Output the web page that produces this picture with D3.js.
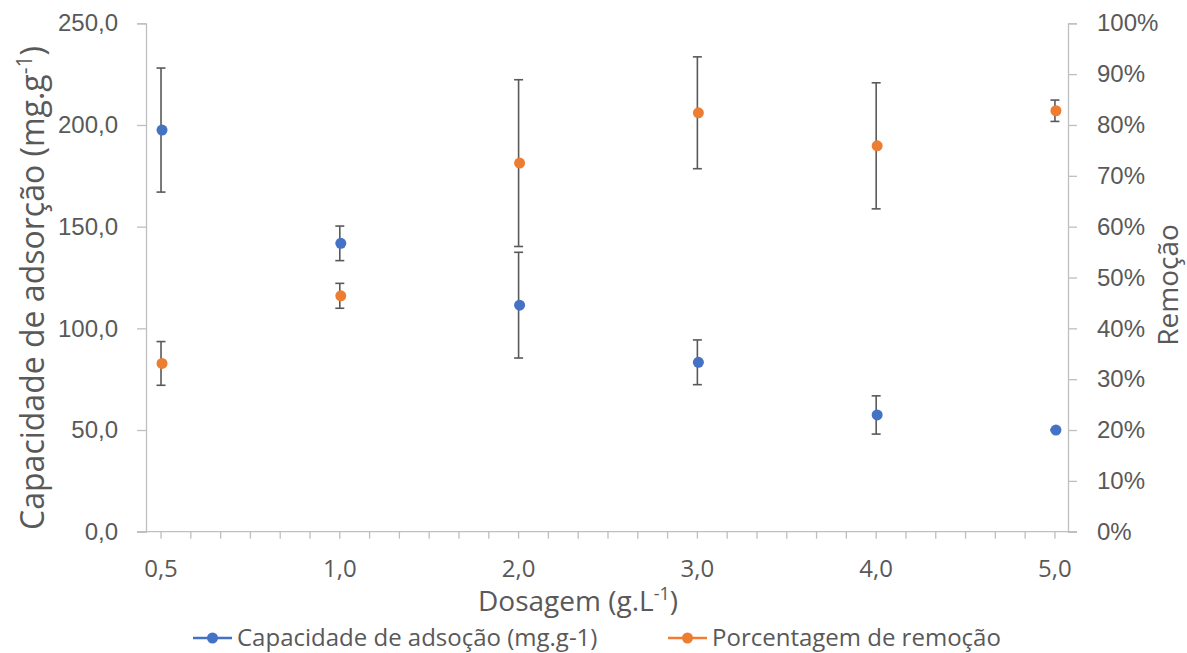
<!DOCTYPE html>
<html>
<head>
<meta charset="utf-8">
<script src="https://cdn.jsdelivr.net/npm/d3@7"></script>
<style>
  body { margin: 0; background: #fff; }
  svg { font-family: "Open Sans", "Noto Sans", sans-serif; }
  text { fill: #595959; }
</style>
</head>
<body>
<svg width="1187" height="653"></svg>
<script>
const doses = ["0,5", "1,0", "2,0", "3,0", "4,0", "5,0"];
const capacity = [197.5, 141.8, 111.4, 83.3, 57.4, 50.0];
const capacityErr = [30.5, 8.5, 26.0, 11.0, 9.4, 0.3];
const removal = [33.1, 46.4, 72.5, 82.4, 75.9, 82.8];
const removalErr = [4.3, 2.45, 16.4, 11.0, 12.4, 2.1];
const leftTicks = [0, 50, 100, 150, 200, 250];
const rightTicks = [0, 10, 20, 30, 40, 50, 60, 70, 80, 90, 100];

const svg = d3.select("svg");
const plotLeft = 146, plotRight = 1068, plotTop = 23.3, plotBottom = 531.7;
const grey = "#595959", axisGrey = "#bfbfbf";
const blue = "#4472c4", orange = "#ed7d31";

const x = d3.scaleLinear().domain([-0.084, 5.073]).range([plotLeft, plotRight]);
const yLeft = d3.scaleLinear().domain([0, 250]).range([plotBottom, plotTop]);
const yRight = d3.scaleLinear().domain([0, 100]).range([plotBottom, plotTop]);

// left axis
const gl = svg.append("g").attr("transform", `translate(${plotLeft},0)`)
  .call(d3.axisLeft(yLeft).tickValues(leftTicks).tickSize(9).tickPadding(19)
    .tickFormat(d => d3.format(".1f")(d).replace(".", ",")));
// right axis
const gr = svg.append("g").attr("transform", `translate(${plotRight},0)`)
  .call(d3.axisRight(yRight).tickValues(rightTicks).tickSize(9).tickPadding(20)
    .tickFormat(d => d + "%"));
[gl, gr].forEach(g => {
  g.select(".domain").attr("stroke", axisGrey).attr("stroke-width", 1.3);
  g.selectAll(".tick line").attr("stroke", axisGrey).attr("stroke-width", 1.3);
  g.selectAll(".tick text").attr("fill", grey).style("font-size", "24px");
});

// x axis with minor ticks every 1/6 category
const minor = d3.range(0, 31).map(i => i / 6);
const gx = svg.append("g").attr("transform", `translate(0,${plotBottom})`);
gx.append("line").attr("x1", plotLeft - 9).attr("x2", plotRight + 9)
  .attr("stroke", axisGrey).attr("stroke-width", 1.3);
gx.selectAll("line.minor").data(minor).enter().append("line")
  .attr("class", "minor")
  .attr("x1", d => x(d)).attr("x2", d => x(d))
  .attr("y1", 0).attr("y2", 7)
  .attr("stroke", axisGrey).attr("stroke-width", 1.3);
gx.selectAll("text").data(doses).enter().append("text")
  .attr("x", (d, i) => x(i)).attr("y", 45)
  .attr("text-anchor", "middle").style("font-size", "24px")
  .text(d => d);

// error bars and points
function drawSeries(vals, errs, scale, color) {
  const g = svg.append("g");
  const items = vals.map((v, i) => ({ i, v, e: errs[i] }));
  const bars = g.selectAll("g.err").data(items).enter().append("g").attr("class", "err");
  bars.append("line")
    .attr("x1", d => x(d.i)).attr("x2", d => x(d.i))
    .attr("y1", d => scale(d.v + d.e)).attr("y2", d => scale(d.v - d.e));
  bars.append("line")
    .attr("x1", d => x(d.i) - 4.5).attr("x2", d => x(d.i) + 4.5)
    .attr("y1", d => scale(d.v + d.e)).attr("y2", d => scale(d.v + d.e));
  bars.append("line")
    .attr("x1", d => x(d.i) - 4.5).attr("x2", d => x(d.i) + 4.5)
    .attr("y1", d => scale(d.v - d.e)).attr("y2", d => scale(d.v - d.e));
  bars.selectAll("line").attr("stroke", grey).attr("stroke-width", 1.6);
  g.selectAll("circle").data(items).enter().append("circle")
    .attr("cx", d => x(d.i) + 1).attr("cy", d => scale(d.v))
    .attr("r", 5.5).attr("fill", color);
}
drawSeries(capacity, capacityErr, yLeft, blue);
drawSeries(removal, removalErr, yRight, orange);

// axis titles
const lt = svg.append("text")
  .attr("transform", "translate(44,288) rotate(-90)")
  .attr("text-anchor", "middle").style("font-size", "32px");
lt.append("tspan").text("Capacidade de adsorção (mg.g");
lt.append("tspan").attr("dy", -12).style("font-size", "21px").text("-1");
lt.append("tspan").attr("dy", 12).text(")");

svg.append("text")
  .attr("transform", "translate(1178,285) rotate(-90)")
  .attr("text-anchor", "middle").style("font-size", "28px")
  .text("Remoção");

const xt = svg.append("text")
  .attr("x", 578).attr("y", 611)
  .attr("text-anchor", "middle").style("font-size", "28px");
xt.append("tspan").text("Dosagem (g.L");
xt.append("tspan").attr("dy", -11).style("font-size", "18px").text("-1");
xt.append("tspan").attr("dy", 11).text(")");

// legend
const legendItems = [
  { label: "Capacidade de adsoção (mg.g-1)", color: blue, x: 193 },
  { label: "Porcentagem de remoção", color: orange, x: 668 }
];
const lg = svg.selectAll("g.legend").data(legendItems).enter().append("g")
  .attr("class", "legend")
  .attr("transform", d => `translate(${d.x},638)`);
lg.append("line").attr("x1", 0).attr("x2", 39)
  .attr("stroke", d => d.color).attr("stroke-width", 2.5);
lg.append("circle").attr("cx", 19.5).attr("r", 5.5).attr("fill", d => d.color);
lg.append("text").attr("x", 44).attr("y", 8).style("font-size", "24px")
  .text(d => d.label);
</script>
</body>
</html>
